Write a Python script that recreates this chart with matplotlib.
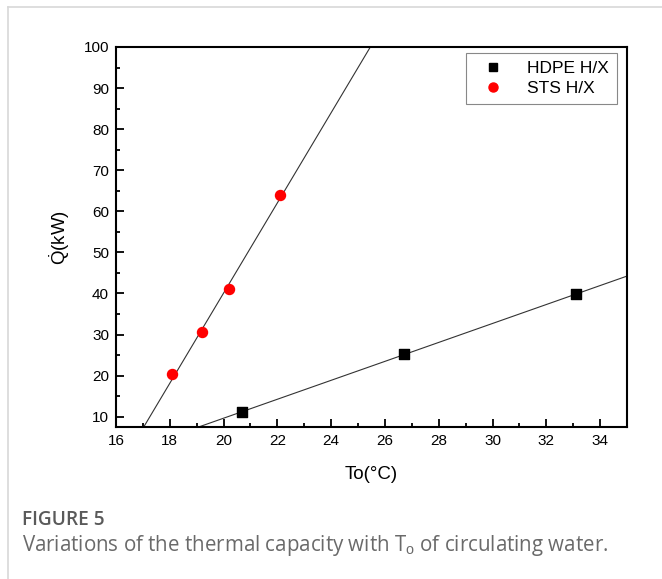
import numpy as np
import matplotlib
matplotlib.use("Agg")
import matplotlib.pyplot as plt
from matplotlib.lines import Line2D

plt.rcParams['font.family'] = ['Liberation Sans', 'DejaVu Sans']
plt.rcParams['mathtext.fontset'] = 'custom'
plt.rcParams['mathtext.rm'] = 'Liberation Sans'
plt.rcParams['mathtext.it'] = 'Liberation Sans'

hdpe_x = [20.7, 26.7, 33.1]
hdpe_y = [11.2, 25.2, 39.8]
sts_x = [18.1, 19.2, 20.2, 22.1]
sts_y = [20.3, 30.7, 41.0, 64.0]
x_ticks = [16, 18, 20, 22, 24, 26, 28, 30, 32, 34]
y_ticks = [10, 20, 30, 40, 50, 60, 70, 80, 90, 100]

fig = plt.figure(figsize=(6.62, 5.79), dpi=100)
ax = fig.add_axes([116/662, 1-427/579, (627-116)/662, (427-47)/579])

xs = np.linspace(16, 35, 200)
for X, Y in [(sts_x, sts_y), (hdpe_x, hdpe_y)]:
    p = np.polyfit(X, Y, 1)
    ax.plot(xs, np.polyval(p, xs), color='#333333', lw=0.8, zorder=2)

ax.scatter(hdpe_x, hdpe_y, marker='s', s=42, color='black', zorder=3)
ax.scatter(sts_x, sts_y, marker='o', s=52, color='#ff0000', zorder=3)

ax.set_xlim(16, 35)
ax.set_ylim(7.5, 100)
ax.set_xticks(x_ticks)
ax.set_yticks(y_ticks)
ax.set_xticks(np.arange(17, 35, 2), minor=True)
ax.set_yticks(np.arange(15, 100, 10), minor=True)
ax.tick_params(which='major', direction='in', length=6, width=1.3, labelsize=11, colors='black', pad=5)
ax.tick_params(which='minor', direction='in', length=3, width=1.3)
for s in ax.spines.values():
    s.set_linewidth(1.5)

ax.set_xlabel('To(°C)', fontsize=13.5, labelpad=13)
ax.set_ylabel(r'$\dot{\mathrm{Q}}$(kW)', fontsize=13.5, labelpad=8)

handles = [Line2D([], [], marker='s', ls='none', color='black', markersize=6),
           Line2D([], [], marker='o', ls='none', color='#ff0000', markersize=6.5)]
leg = ax.legend(handles, ['HDPE H/X', 'STS H/X'], loc='upper right', fontsize=12.5,
                fancybox=False, edgecolor='#888888', framealpha=1,
                bbox_to_anchor=(1 - 10/511, 1 - 6/380), borderaxespad=0,
                handletextpad=0.9, borderpad=0.45,
                labelspacing=0.3, handlelength=2.2)
leg.get_frame().set_linewidth(0.8)

# border of card
fig.add_artist(Line2D([8/662, 1], [1-7/579, 1-7/579], color='#d8d8d8', lw=1.2))
fig.add_artist(Line2D([8/662, 8/662], [0, 1-7/579], color='#d8d8d8', lw=1.2))

fig.text(22/662, 1-520/579, 'FIGURE 5', fontsize=13.8, color='#5a5a5a',
         family=['Open Sans', 'DejaVu Sans'], weight='semibold', va='center')
fig.text(22/662, 1-546/579, r'Variations of the thermal capacity with T$_\mathrm{o}$ of circulating water.',
         fontsize=14.8, color='#6a6a6a', family=['Open Sans', 'DejaVu Sans'], va='center')

fig.savefig('out.png', dpi=100)
